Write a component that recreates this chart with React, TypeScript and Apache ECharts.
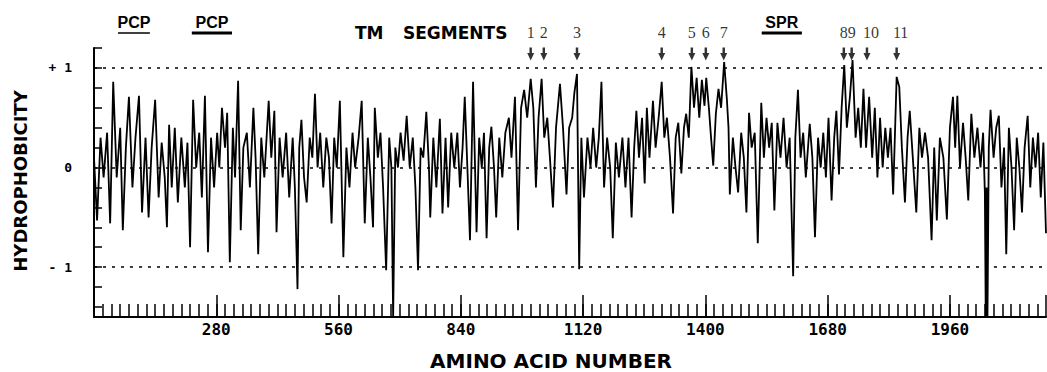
import React, { useEffect, useRef } from "react";
import * as echarts from "echarts";

const X_MAX = 2180;
const xTickValues = [280, 560, 840, 1120, 1400, 1680, 1960];
const referenceLevels = [1, 0, -1];

// hydrophobicity profile: [amino acid number, hydrophobicity]
const seg1: [number, number][] = [
  [0, 0.1], [7, -0.53], [15, 0.3], [22, -0.1], [30, 0.35], [37, -0.56], [44, 0.86], [52, -0.1], [60, 0.4], [66, -0.63],
  [73, 0.2], [80, 0.71], [88, -0.2], [95, 0.3], [103, 0.72], [110, -0.45], [118, 0.3], [125, -0.5], [132, 0.2], [140, 0.68],
  [148, -0.3], [155, 0.25], [162, -0.1], [167, -0.6], [172, 0.43], [178, -0.2], [185, 0.4], [192, -0.35], [200, 0.3], [208, -0.2],
  [214, 0.25], [220, -0.8], [227, 0.68], [234, 0.0], [241, 0.35], [247, -0.3], [254, 0.72], [261, -0.85], [268, 0.3], [275, -0.2],
  [282, 0.35], [287, 0.0], [293, 0.6], [300, 0.2], [305, 0.55], [311, -0.95], [318, 0.4], [323, -0.1], [330, 0.87], [336, -0.63],
  [342, 0.2], [350, 0.35], [357, -0.2], [365, 0.6], [370, 0.1], [376, -0.87], [383, 0.3], [390, -0.1], [400, 0.67], [406, 0.1],
  [413, 0.57], [418, -0.65], [425, 0.3], [432, -0.1], [440, 0.35], [447, -0.3], [455, 0.3], [460, -0.2], [466, -1.22], [470, 0.2],
  [475, 0.48], [481, -0.1], [487, -0.35], [494, 0.3], [500, 0.1], [506, 0.74], [512, 0.0], [518, 0.35], [525, -0.2], [532, 0.3],
  [538, 0.1], [544, -0.56], [550, 0.3],
];
const seg2: [number, number][] = [
  [556, 0.0], [563, 0.67], [571, -0.9], [578, 0.2], [585, -0.2], [592, 0.35], [598, 0.0], [606, 0.3], [613, 0.67], [620, -0.56],
  [627, 0.3], [633, -0.1], [639, -0.6], [643, 0.6], [650, 0.1], [656, 0.35], [662, -0.2], [669, -1.03], [676, 0.3], [681, 0.0],
  [685, -1.5], [690, 0.2], [696, 0.0], [702, 0.35], [709, 0.07], [716, 0.52], [723, 0.0], [730, 0.3], [736, -0.2], [742, -1.03],
  [748, 0.2], [754, 0.1], [761, 0.56], [767, 0.0], [770, -0.5], [777, 0.3], [784, -0.2], [792, 0.49], [798, -0.46], [805, 0.3],
  [811, -0.4], [818, 0.35], [825, 0.0], [832, 0.35], [838, -0.2], [844, 0.2], [849, 0.71], [855, 0.0], [861, -0.73], [868, 0.86],
  [876, -0.65], [882, 0.3], [888, 0.0], [893, 0.35], [899, -0.71], [905, 0.2], [910, 0.41], [916, 0.0], [921, -0.5], [928, 0.3],
  [935, -0.1], [942, 0.35], [950, 0.5], [956, 0.1], [964, 0.71], [971, -0.63], [978, 0.6], [985, 0.78], [992, 0.5], [1000, 0.89],
  [1006, 0.6], [1012, -0.2], [1018, 0.5], [1025, 0.89], [1031, 0.3], [1038, 0.5], [1044, 0.1], [1051, -0.4], [1058, 0.4], [1067, 0.84],
  [1074, 0.4], [1082, -0.27], [1088, 0.4], [1095, 0.5], [1100, 0.75], [1106, 0.94], [1111, -1.02], [1116, 0.3],
];
const seg3: [number, number][] = [
  [1122, -0.3], [1130, 0.3], [1137, 0.0], [1143, 0.4], [1150, 0.0], [1156, 0.3], [1162, 0.86], [1168, -0.2], [1175, 0.3], [1182, 0.0],
  [1188, -0.71], [1195, 0.25], [1202, -0.1], [1210, 0.3], [1217, -0.2], [1224, 0.3], [1231, -0.5], [1237, 0.2], [1242, 0.57], [1248, 0.1],
  [1255, 0.5], [1261, -0.16], [1266, 0.6], [1272, 0.1], [1280, 0.67], [1286, 0.2], [1293, 0.5], [1300, 0.86], [1306, 0.3], [1312, 0.5],
  [1319, 0.1], [1326, -0.46], [1332, 0.3], [1338, 0.45], [1345, -0.06], [1351, 0.4], [1356, 0.54], [1362, 0.3], [1368, 1.01], [1374, 0.6],
  [1380, 0.9], [1386, 0.5], [1392, 0.88], [1398, 0.62], [1402, 0.9], [1408, 0.6], [1413, 0.3], [1418, 0.02], [1424, 0.54], [1430, 0.79],
  [1436, 0.6], [1443, 1.06], [1449, 0.7], [1453, 0.4], [1456, -0.27], [1463, 0.3], [1469, 0.0], [1475, -0.25], [1482, 0.35], [1488, 0.1],
  [1494, -0.45], [1500, 0.55], [1506, 0.2], [1513, 0.35], [1520, -0.76], [1528, 0.65], [1534, 0.1], [1540, 0.5], [1546, 0.2], [1552, 0.45],
  [1558, -0.43], [1565, 0.45], [1572, 0.1], [1579, 0.5], [1586, 0.0], [1593, 0.3], [1601, -1.09], [1606, 0.3], [1612, 0.78], [1618, 0.1],
  [1624, 0.35], [1630, -0.1], [1639, 0.44],
];
const seg4: [number, number][] = [
  [1645, 0.1], [1651, -0.7], [1658, 0.3], [1664, 0.0], [1670, 0.35], [1676, -0.1], [1682, 0.5], [1689, -0.33], [1695, 0.3], [1700, 0.57],
  [1706, -0.07], [1712, 0.6], [1718, 1.03], [1724, 0.4], [1731, 0.71], [1737, 1.08], [1744, 0.3], [1750, 0.6], [1756, 0.2], [1762, 0.79],
  [1768, 0.2], [1775, 0.71], [1782, 0.1], [1788, 0.6], [1794, -0.1], [1800, 0.5], [1806, 0.0], [1812, 0.4], [1818, 0.1], [1824, 0.4],
  [1830, -0.27], [1838, 0.91], [1844, 0.81], [1850, 0.2], [1857, -0.35], [1863, 0.3], [1868, 0.57], [1875, 0.1], [1883, -0.45], [1890, 0.4],
  [1896, 0.1], [1903, 0.35], [1910, 0.1], [1918, -0.73], [1924, 0.2], [1930, -0.53], [1937, 0.3], [1945, 0.1], [1953, -0.52], [1960, 0.4],
  [1967, 0.71], [1972, 0.2], [1977, 0.72], [1983, 0.0], [1990, 0.45], [1996, 0.1], [2002, -0.33], [2009, 0.54], [2016, 0.1], [2023, 0.4],
  [2030, 0.0], [2036, 0.35], [2040, -0.25], [2042, -1.5], [2044, -0.2], [2046, -1.5], [2049, 0.2], [2053, 0.58], [2060, 0.1], [2066, 0.4],
  [2072, 0.52], [2078, -0.2], [2084, 0.2], [2089, -0.87], [2095, 0.4], [2101, 0.0], [2107, -0.63], [2113, 0.3], [2119, 0.0], [2125, -0.45],
  [2131, 0.2], [2138, 0.52], [2144, -0.2], [2150, 0.3], [2156, 0.0], [2162, 0.35], [2168, -0.3], [2174, 0.25], [2180, -0.66],
];

// transmembrane segment markers
const tmPositions = [1000, 1030, 1106, 1300, 1369, 1401, 1442, 1717, 1735, 1770, 1838];
const tmLabels = ["1", "2", "3", "4", "5", "6", "7", "8", "9", "10", "11"];
const tmArrowLevel = 1.14;

// labelled regions (amino acid ranges)
const regionNames = ["PCP", "PCP", "SPR"];
const regionStarts = [55, 224, 1529];
const regionEnds = [128, 316, 1621];

const profile = [...seg1, ...seg2, ...seg3, ...seg4];

export default function App() {
  const ref = useRef<HTMLDivElement>(null);
  useEffect(() => {
    const chart = echarts.init(ref.current!, null, { renderer: "svg" });
    const black = "#000";
    const near = (a: number, b: number) => Math.abs(a - b) < 1e-6;
    chart.setOption({
      animation: false,
      backgroundColor: "#fff",
      grid: [
        { left: 94, right: 1, top: 48, bottom: 55 },
        { left: 94, right: 1, top: 48, bottom: 65 },
      ],
      xAxis: [
        {
          type: "value", gridIndex: 0, position: "bottom", offset: 0, min: 0, max: X_MAX, interval: 20,
          axisLine: { show: true, onZero: false, lineStyle: { color: black, width: 2 } },
          axisTick: { show: true, inside: true, length: 13, lineStyle: { color: black, width: 1.5 } },
          axisLabel: {
            show: true, margin: 4, color: black, fontFamily: "DejaVu Sans Mono", fontWeight: "bold", fontSize: 16,
            showMinLabel: false, showMaxLabel: false,
            formatter: (v: number) => (xTickValues.includes(Math.round(v)) ? String(Math.round(v)) : ""),
          },
          splitLine: { show: false },
        },
        {
          type: "value", gridIndex: 0, position: "bottom", offset: 0, min: 0, max: X_MAX, interval: 280,
          axisLine: { show: false, onZero: false },
          axisTick: { show: true, inside: true, length: 22, lineStyle: { color: black, width: 1.5 } },
          axisLabel: { show: false },
          splitLine: { show: false },
        },
        { type: "value", gridIndex: 1, min: 0, max: X_MAX, show: false },
      ],
      yAxis: [
        {
          type: "value", gridIndex: 0, position: "left", min: -1.5, max: 1.2,
          axisLine: { show: true, onZero: false, lineStyle: { color: black, width: 2 } },
          axisTick: { show: false }, axisLabel: { show: false }, splitLine: { show: false },
        },
        {
          type: "value", gridIndex: 1, position: "left", min: -1.4, max: 1.2, interval: 0.2,
          axisLine: { show: false, onZero: false },
          axisTick: { show: true, inside: true, length: 8, lineStyle: { color: black, width: 1.5 } },
          axisLabel: {
            show: true, margin: 22, color: black, fontFamily: "DejaVu Sans Mono", fontWeight: "bold", fontSize: 13,
            formatter: (v: number) => (near(v, 1) ? "+ 1" : near(v, 0) ? "0" : near(v, -1) ? "- 1" : ""),
          },
          splitLine: { show: false },
        },
      ],
      series: [
        {
          type: "line", xAxisIndex: 0, yAxisIndex: 0, data: profile, showSymbol: false, symbol: "none",
          lineStyle: { color: black, width: 1.8 }, z: 3,
          markLine: {
            silent: true, symbol: ["none", "none"], label: { show: false },
            lineStyle: { color: black, type: [3, 6], width: 1.5 },
            data: referenceLevels.map((v) => ({ yAxis: v })),
          },
        },
        {
          type: "scatter", xAxisIndex: 0, yAxisIndex: 0, clip: false, z: 4,
          data: tmPositions.map((p, i) => ({
            value: [p, tmArrowLevel],
            label: tmLabels[i].length > 1 ? { offset: [4, 0] } : undefined,
          })),
          symbol: "path://M2.6,0 L5.4,0 L5.4,6 L8,6 L4,14 L0,6 L2.6,6 Z",
          symbolSize: [7, 13],
          itemStyle: { color: black },
          label: {
            show: true, position: "top", distance: 7, color: black,
            fontFamily: "Liberation Serif", fontSize: 16,
            formatter: (p: any) => tmLabels[p.dataIndex],
          },
        },
      ],
    });

    const px = (v: number) => chart.convertToPixel({ xAxisIndex: 0 }, v) as number;
    const regionLineWidths = [1.5, 3, 3];
    const graphics: any[] = [];
    regionNames.forEach((name, i) => {
      const x0 = px(regionStarts[i]);
      const x1 = px(regionEnds[i]);
      graphics.push({
        type: "text", x: (x0 + x1) / 2, y: 22,
        style: { text: name, fill: black, fontFamily: "Liberation Sans", fontWeight: "bold", fontSize: 16, align: "center", verticalAlign: "middle" },
      });
      graphics.push({
        type: "line", shape: { x1: x0, y1: 33, x2: x1, y2: 33 },
        style: { stroke: black, lineWidth: regionLineWidths[i] },
      });
    });
    graphics.push({
      type: "text", x: 355, y: 33,
      style: { text: "TM", fill: black, fontFamily: "DejaVu Sans", fontWeight: "bold", fontSize: 17, align: "left", verticalAlign: "middle" },
    });
    graphics.push({
      type: "text", x: 403, y: 33,
      style: { text: "SEGMENTS", fill: black, fontFamily: "DejaVu Sans", fontWeight: "bold", fontSize: 17, align: "left", verticalAlign: "middle" },
    });
    graphics.push({
      type: "text", x: 20, y: 181, rotation: Math.PI / 2,
      style: { text: "HYDROPHOBICITY", fill: black, fontFamily: "DejaVu Sans", fontWeight: "bold", fontSize: 18, align: "center", verticalAlign: "middle" },
    });
    graphics.push({
      type: "text", x: 551, y: 361,
      style: { text: "AMINO ACID NUMBER", fill: black, fontFamily: "DejaVu Sans", fontWeight: "bold", fontSize: 20, align: "center", verticalAlign: "middle" },
    });
    chart.setOption({ graphic: graphics });

    return () => chart.dispose();
  }, []);
  return <div ref={ref} style={{ position: "fixed", left: 0, top: 0, width: 1047, height: 372 }} />;
}
